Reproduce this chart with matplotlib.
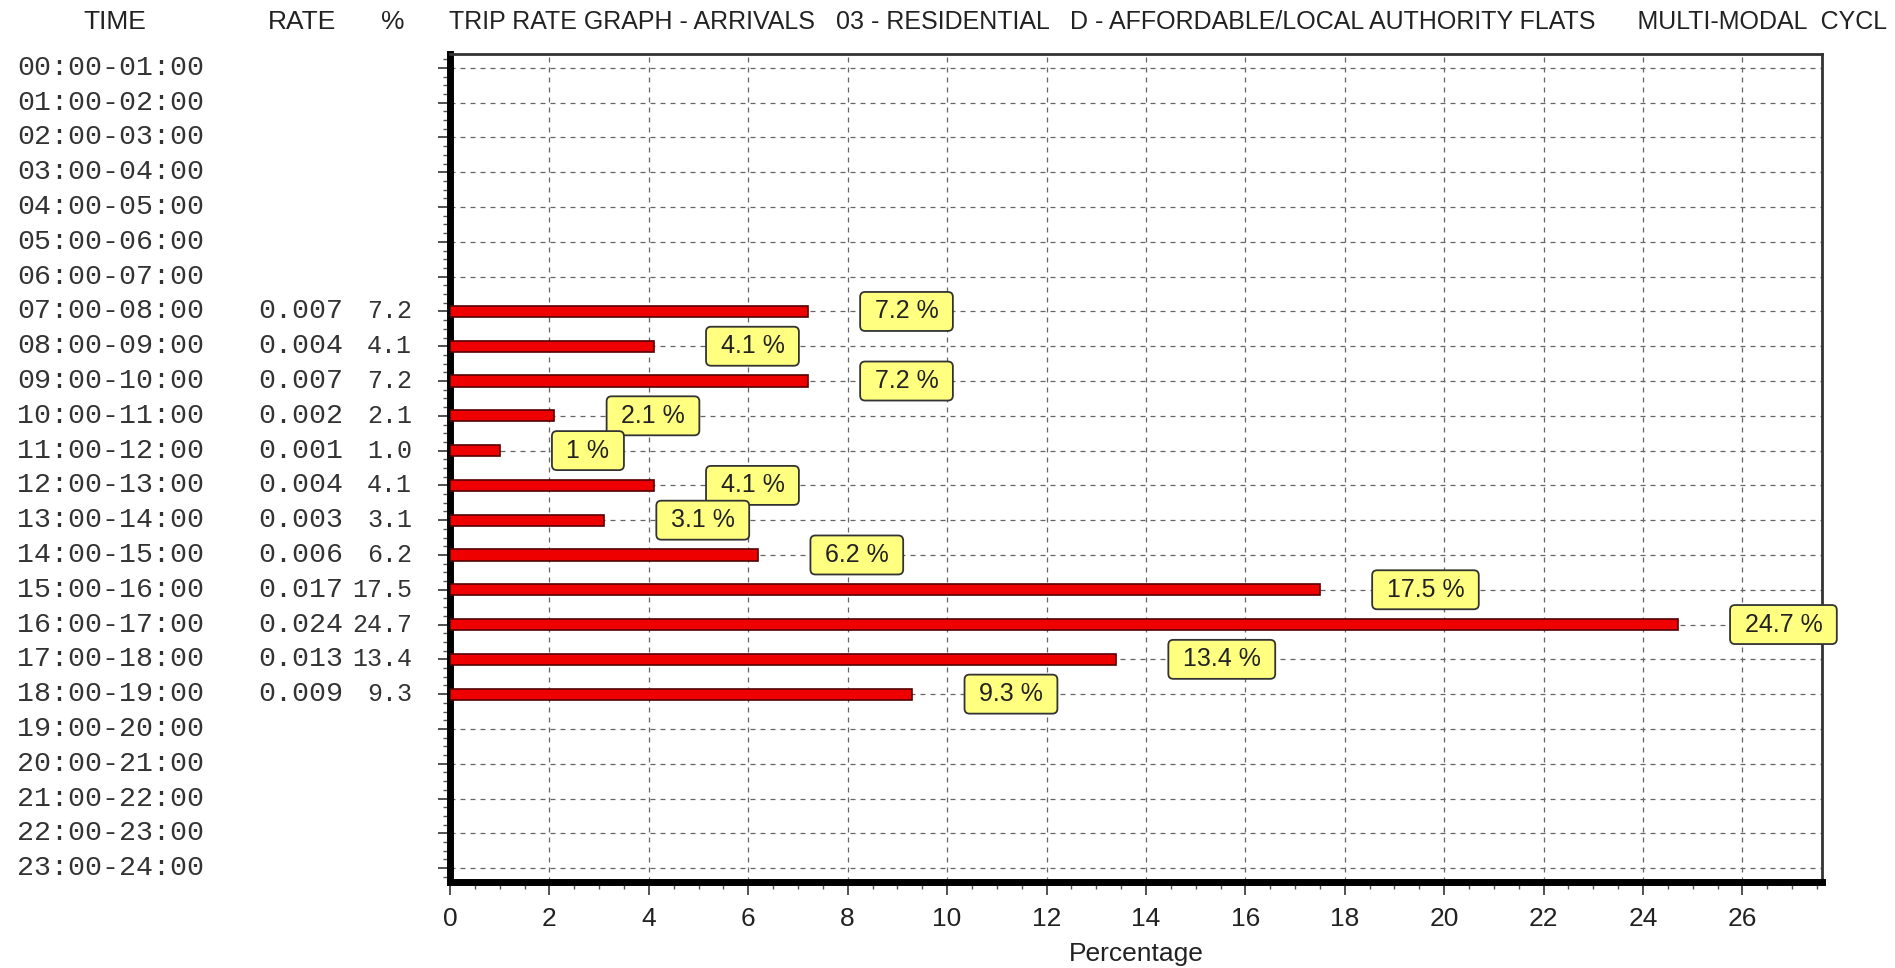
import numpy as np
import matplotlib.pyplot as plt
from matplotlib.ticker import MultipleLocator
from matplotlib.transforms import blended_transform_factory

times = ['%02d:00-%02d:00' % (h, h + 1) for h in range(24)]
rates = [None] * 7 + [0.007, 0.004, 0.007, 0.002, 0.001, 0.004,
                      0.003, 0.006, 0.017, 0.024, 0.013, 0.009] + [None] * 5
percents = [None] * 7 + [7.2, 4.1, 7.2, 2.1, 1.0, 4.1,
                         3.1, 6.2, 17.5, 24.7, 13.4, 9.3] + [None] * 5
title = ('TRIP RATE GRAPH - ARRIVALS   03 - RESIDENTIAL   D - AFFORDABLE/LOCAL AUTHORITY FLATS'
         '      MULTI-MODAL  CYCL')

plt.rcParams['font.family'] = 'Liberation Sans'
fig = plt.figure(figsize=(18.95, 9.68), dpi=100)
ax = fig.add_axes([450 / 1895, 1 - 882 / 968, (1822 - 450) / 1895, (882 - 54) / 968])

rows = np.arange(len(times))
vals = np.array([np.nan if p is None else p for p in percents])
mask = ~np.isnan(vals)
ax.barh(rows[mask], vals[mask], height=0.32, color='#ee0000', edgecolor='#550000',
        linewidth=1.2, zorder=3)

for i in rows[mask]:
    v = vals[i]
    ax.annotate(' %g %% ' % v, (v, i), xytext=(43, 0), textcoords='offset points',
                ha='left', va='center', fontsize=18, color='#222222', zorder=4,
                bbox=dict(boxstyle='round,pad=0.3,rounding_size=0.2', fc='#ffff80',
                          ec='#333333', lw=1.3))

ax.set_xlim(0, 27.6)
ax.set_ylim(23.4, -0.4)
ax.xaxis.set_major_locator(MultipleLocator(2))
ax.xaxis.set_minor_locator(MultipleLocator(0.5))
ax.yaxis.set_major_locator(MultipleLocator(1))
ax.yaxis.set_minor_locator(MultipleLocator(0.25))
ax.set_yticklabels([])
ax.tick_params(axis='y', which='major', length=9, width=1.2, color='#333333')
ax.tick_params(axis='y', which='minor', length=5, width=1, color='#555555')
ax.tick_params(axis='x', which='major', length=9, width=1.2, color='#333333',
               labelsize=19, labelcolor='#222222', pad=9)
ax.tick_params(axis='x', which='minor', length=5, width=1, color='#555555')
ax.grid(True, which='major', linestyle=(0, (4, 4)), color='#666666', linewidth=0.9, zorder=0)

ax.spines['left'].set_linewidth(5)
ax.spines['bottom'].set_linewidth(5)
ax.spines['top'].set_linewidth(2)
ax.spines['right'].set_linewidth(2)
ax.spines['top'].set_color('#333333')
ax.spines['right'].set_color('#333333')
ax.set_xlabel('Percentage', fontsize=19, color='#222222', labelpad=8)

# text columns left of the axes
tr = blended_transform_factory(fig.transFigure, ax.transData)
for i, t in enumerate(times):
    fig.text(17 / 1895, i, t, transform=tr, ha='left', va='center',
             family='Liberation Mono', fontsize=20.3, color='#333333')
    if rates[i] is not None:
        fig.text(343 / 1895, i, '%.3f' % rates[i], transform=tr, ha='right', va='center',
                 family='Liberation Mono', fontsize=20.3, color='#333333')
        fig.text(412 / 1895, i, '%.1f' % percents[i], transform=tr, ha='right', va='center',
                 family='Liberation Mono', fontsize=18, color='#333333')

fig.text(115 / 1895, 1 - 22 / 968, 'TIME', ha='center', va='center', fontsize=19, color='#222222')
fig.text(302 / 1895, 1 - 22 / 968, 'RATE', ha='center', va='center', fontsize=19, color='#222222')
fig.text(393 / 1895, 1 - 22 / 968, '%', ha='center', va='center', fontsize=19, color='#222222')
fig.text(449 / 1895, 1 - 22 / 968, title, ha='left', va='center', fontsize=18, color='#222222')

fig.savefig('out.png', dpi=100, facecolor='white')
